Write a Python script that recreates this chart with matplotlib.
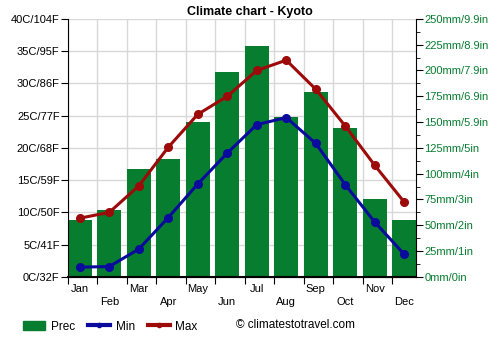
import numpy as np
import matplotlib.pyplot as plt
from matplotlib.lines import Line2D
from matplotlib.patches import Patch

plt.rcParams['font.family'] = ['Liberation Sans', 'DejaVu Sans']

months = ["Jan", "Feb", "Mar", "Apr", "May", "Jun",
          "Jul", "Aug", "Sep", "Oct", "Nov", "Dec"]
prec = [55, 65, 105, 114, 150, 199, 224, 155, 179, 144, 75, 55]
t_min = [1.5, 1.6, 4.3, 9.2, 14.4, 19.2, 23.6, 24.7, 20.7, 14.3, 8.5, 3.5]
t_max = [9.1, 10.0, 14.1, 20.1, 25.2, 28.0, 32.0, 33.6, 29.1, 23.4, 17.3, 11.6]

temp_ticks = [0, 5, 10, 15, 20, 25, 30, 35, 40]
temp_labels = ["0C/32F", "5C/41F", "10C/50F", "15C/59F", "20C/68F",
               "25C/77F", "30C/86F", "35C/95F", "40C/104F"]
prec_ticks = [0, 25, 50, 75, 100, 125, 150, 175, 200, 225, 250]
prec_labels = ["0mm/0in", "25mm/1in", "50mm/2in", "75mm/3in", "100mm/4in",
               "125mm/5in", "150mm/5.9in", "175mm/6.9in", "200mm/7.9in",
               "225mm/8.9in", "250mm/9.9in"]

green = "#077d30"
blue = "#0a0a9c"
red = "#9c0a0a"
grid_col = "#d8d8d8"

fig = plt.figure(figsize=(5, 3.5), dpi=100)
ax = fig.add_axes([0.136, 0.209, 0.696, 0.737])
ax2 = ax.twinx()

x = np.arange(12)

# grid behind the bars (month boundaries + temperature levels)
for xi in x - 0.4:
    ax2.axvline(xi, color=grid_col, lw=1, zorder=0)
for yi in np.array(temp_ticks) * 250 / 40:
    ax2.axhline(yi, color=grid_col, lw=1, zorder=0)

# precipitation bars on the right axis
ax2.bar(x, prec, width=0.8, color=green, zorder=2)
ax2.set_ylim(0, 250)
ax2.set_yticks(prec_ticks)
ax2.set_yticklabels(prec_labels, color=green, fontsize=8)
ax2.set_yticks(np.arange(12.5, 250, 25), minor=True)
ax2.tick_params(axis='y', which='major', length=5, pad=1)
ax2.tick_params(axis='y', which='minor', length=3)

# temperature lines drawn on top
ax.set_zorder(ax2.get_zorder() + 1)
ax.patch.set_visible(False)
ax.plot(x, t_min, color=blue, lw=2.2, marker='o', ms=5.5, zorder=3)
ax.plot(x, t_max, color=red, lw=2.2, marker='o', ms=5.5, zorder=3)
ax.set_ylim(0, 40)
ax.set_xlim(-0.4, 11.4)
ax.set_yticks(temp_ticks)
ax.set_yticklabels(temp_labels, fontsize=8)
ax.tick_params(axis='y', length=5, pad=1)

# ticks at month boundaries, labels centred on months
ax.set_xticks(x - 0.4)
ax.set_xticklabels([])
ax.set_xticks(x, minor=True)
ax.set_xticklabels([m if i % 2 == 0 else "\n" + m for i, m in enumerate(months)],
                   minor=True, fontsize=8, linespacing=1.45)
ax.tick_params(axis='x', which='major', length=5)
ax.tick_params(axis='x', which='minor', length=0, pad=5)

for a in (ax, ax2):
    a.spines['top'].set_visible(False)
ax.spines['right'].set_visible(False)
ax2.spines['left'].set_visible(False)
ax.spines['bottom'].set_linewidth(1.5)

fig.text(0.5, 0.965, "Climate chart - Kyoto", ha='center', va='center',
         fontsize=9, fontweight='bold')

handles = [Patch(color=green, label="Prec"),
           Line2D([], [], color=blue, lw=3, marker='o', ms=3, label="Min"),
           Line2D([], [], color=red, lw=3, marker='o', ms=3, label="Max")]
fig.legend(handles=handles, loc='center left', bbox_to_anchor=(0.046, 0.067),
           ncol=3, frameon=False, fontsize=8.5, handlelength=1.9,
           columnspacing=1.1, handletextpad=0.45, borderpad=0, borderaxespad=0)
fig.text(0.472, 0.07, "© climatestotravel.com", ha='left', va='center', fontsize=8.5)

fig.savefig("out.png", dpi=100)
